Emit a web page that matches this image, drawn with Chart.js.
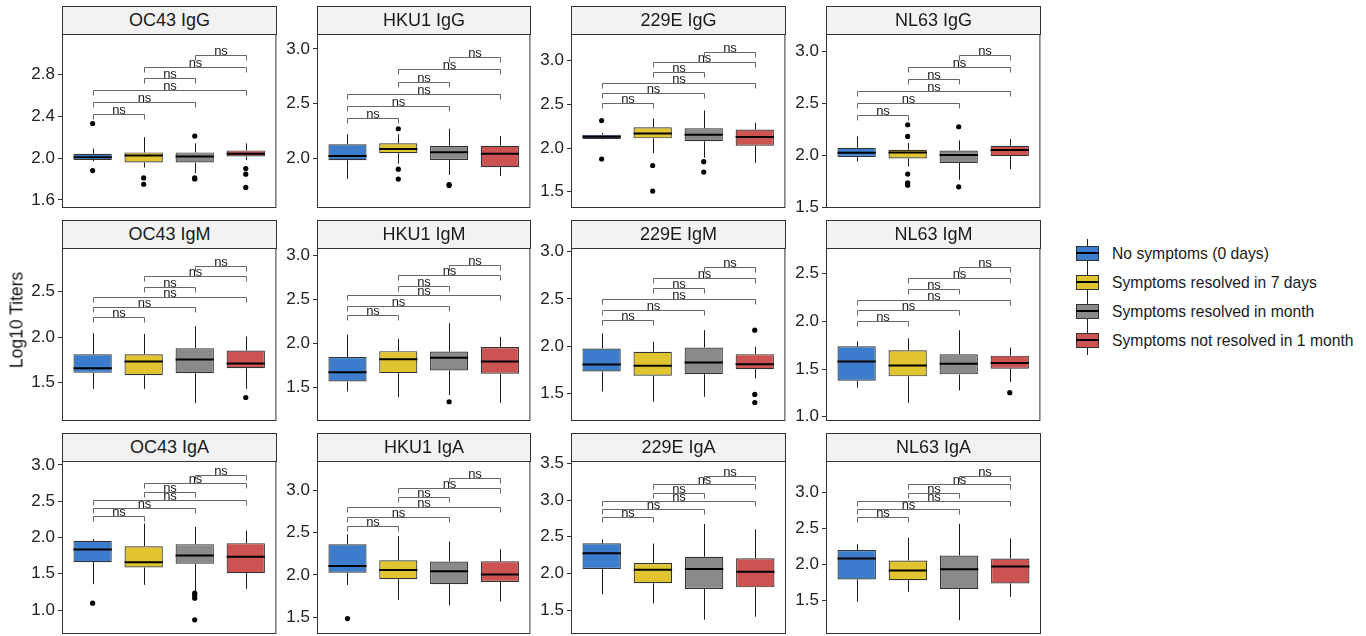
<!DOCTYPE html>
<html>
<head>
<meta charset="utf-8">
<title>Coronavirus antibody titers by symptom duration</title>
<script src="https://cdn.jsdelivr.net/npm/chart.js@4.4.1/dist/chart.umd.min.js"></script>
<style>
  body { margin: 0; background: #fff; font-family: "Liberation Sans", Arial, sans-serif; }
  #fig { position: relative; width: 1366px; height: 636px; overflow: hidden; background: #fff; }
  #fig canvas { position: absolute; }
  .strip { position: absolute; box-sizing: border-box; background: #f2f2f2; border: 1px solid #333;
           text-align: center; font-size: 18px; color: #1a1a1a; z-index: 2; }
  .ytitle { position: absolute; left: 17px; top: 320px; transform: translate(-50%, -50%) rotate(-90deg);
            font-size: 17.5px; color: #111; white-space: nowrap; }
  .legend { position: absolute; left: 1075px; top: 239px; }
  .item { position: relative; height: 29px; }
  .key { position: absolute; left: 0; top: 0; width: 25px; height: 29px; }
  .key .wh { position: absolute; left: 12px; top: 0; width: 1px; height: 29px; background: #222; }
  .key .bx { position: absolute; left: 1px; top: 7px; width: 23px; height: 15px; box-sizing: border-box; border: 1px solid #333; }
  .key .md { position: absolute; left: 1px; top: 13px; width: 23px; height: 2px; background: #000; }
  .lab { position: absolute; left: 37px; top: 0; line-height: 29px; font-size: 15.7px; color: #1a1a1a; white-space: nowrap; }
</style>
</head>
<body>
<div id="fig"></div>
<script>
// ---- data ----
const panelTitles = ['OC43 IgG', 'HKU1 IgG', '229E IgG', 'NL63 IgG',
                     'OC43 IgM', 'HKU1 IgM', '229E IgM', 'NL63 IgM',
                     'OC43 IgA', 'HKU1 IgA', '229E IgA', 'NL63 IgA'];
const groupNames = ['No symptoms (0 days)', 'Symptoms resolved in 7 days',
                    'Symptoms resolved in month', 'Symptoms not resolved in 1 month'];
const groupColors = ['#3b7dcc', '#e0c530', '#8a8a8a', '#cd5252'];

// box statistics per panel, one entry per group
const whiskerLow = [
  [1.97, 1.91, 1.856, 1.98], [1.81, 1.95, 1.847, 1.838], [2.10, 1.943, 1.89, 1.828], [1.943, 1.895, 1.767, 1.87],
  [1.432, 1.432, 1.275, 1.432], [1.45, 1.386, 1.409, 1.318], [1.52, 1.41, 1.463, 1.658], [1.304, 1.143, 1.276, 1.364],
  [1.356, 1.347, 1.255, 1.292], [1.882, 1.706, 1.643, 1.686], [1.714, 1.591, 1.368, 1.409], [1.484, 1.622, 1.23, 1.553]];
const q1 = [
  [1.981, 1.958, 1.958, 2.015], [1.982, 2.046, 1.984, 1.918], [2.103, 2.111, 2.077, 2.027], [1.985, 1.971, 1.927, 1.994],
  [1.608, 1.582, 1.604, 1.659], [1.564, 1.659, 1.689, 1.652], [1.732, 1.686, 1.703, 1.756], [1.378, 1.423, 1.444, 1.503],
  [1.66, 1.586, 1.637, 1.508], [2.027, 1.949, 1.89, 1.918], [2.059, 1.864, 1.786, 1.809], [1.793, 1.783, 1.659, 1.737]];
const medians = [
  [2.008, 2.025, 2.015, 2.041], [2.021, 2.085, 2.055, 2.042], [2.13, 2.165, 2.153, 2.126], [2.026, 2.029, 2.004, 2.052],
  [1.659, 1.733, 1.755, 1.711], [1.67, 1.818, 1.833, 1.792], [1.806, 1.792, 1.827, 1.809], [1.58, 1.538, 1.556, 1.563],
  [1.834, 1.66, 1.752, 1.733], [2.106, 2.059, 2.043, 2.004], [2.273, 2.05, 2.059, 2.023], [2.083, 1.917, 1.935, 1.972]];
const q3 = [
  [2.041, 2.054, 2.054, 2.073], [2.128, 2.137, 2.115, 2.115], [2.153, 2.237, 2.226, 2.211], [2.074, 2.055, 2.048, 2.093],
  [1.813, 1.813, 1.879, 1.853], [1.841, 1.909, 1.905, 1.955], [1.975, 1.94, 1.986, 1.915], [1.738, 1.696, 1.654, 1.64],
  [1.954, 1.88, 1.908, 1.922], [2.361, 2.173, 2.157, 2.161], [2.409, 2.141, 2.227, 2.205], [2.198, 2.055, 2.124, 2.083]];
const whiskerHigh = [
  [2.09, 2.20, 2.14, 2.14], [2.22, 2.22, 2.27, 2.204], [2.17, 2.337, 2.43, 2.29], [2.182, 2.119, 2.144, 2.157],
  [2.044, 2.037, 2.121, 2.007], [2.098, 2.049, 2.227, 2.072], [2.134, 2.046, 2.169, 1.993], [1.79, 1.822, 1.906, 1.724],
  [1.98, 2.193, 2.147, 2.092], [2.479, 2.459, 2.393, 2.302], [2.464, 2.405, 2.673, 2.6], [2.281, 2.369, 2.562, 2.359]];
const outliers = [
  [[2.33, 1.88], [1.81, 1.75], [2.21, 1.81, 1.80], [1.90, 1.846, 1.72]],
  [[], [2.27, 1.90, 1.81], [1.76, 1.75], []],
  [[2.314, 1.874], [1.80, 1.507], [1.844, 1.725], []],
  [[], [2.294, 2.182, 1.822, 1.739, 1.716], [2.275, 1.70], []],
  [[], [], [], [1.337]],
  [[], [], [1.333], []],
  [[], [], [], [2.169, 1.488, 1.403]],
  [[], [], [], [1.252]],
  [[1.094], [], [1.232, 1.2, 1.163, 0.864], []],
  [[1.486], [], [], []],
  [[], [], [], []],
  [[], [], [], []]];

// pairwise comparisons (group numbers), their bracket heights and labels
const comparisonPairs = [[1, 2], [1, 3], [1, 4], [2, 3], [2, 4], [3, 4]];
const bracketLevels = [
  [2.425, 2.535, 2.654, 2.76, 2.87, 2.986], [2.366, 2.476, 2.586, 2.70, 2.814, 2.93],
  [2.52, 2.634, 2.749, 2.867, 2.982, 3.097], [2.387, 2.502, 2.62, 2.732, 2.843, 2.96],
  [2.223, 2.33, 2.443, 2.553, 2.667, 2.784], [2.318, 2.428, 2.545, 2.655, 2.773, 2.886],
  [2.272, 2.385, 2.494, 2.611, 2.724, 2.837], [2.007, 2.119, 2.227, 2.343, 2.455, 2.566],
  [2.294, 2.405, 2.515, 2.63, 2.745, 2.86], [2.573, 2.683, 2.8, 2.919, 3.021, 3.139],
  [2.768, 2.882, 2.991, 3.1, 3.214, 3.332], [2.654, 2.77, 2.88, 2.991, 3.106, 3.226]];
const bracketLabels = ['ns', 'ns', 'ns', 'ns', 'ns', 'ns'];

// y axis ranges and tick spacing per panel
const yMin = [1.523, 1.545, 1.313, 1.497, 1.079, 1.114, 1.207, 0.955, 0.669, 1.304, 1.173, 1.039];
const yMax = [3.185, 3.137, 3.306, 3.163, 2.98, 3.083, 3.039, 2.769, 3.055, 3.342, 3.532, 3.429];
const tickStep = [0.4, 0.5, 0.5, 0.5, 0.5, 0.5, 0.5, 0.5, 0.5, 0.5, 0.5, 0.5];
const yTitle = 'Log10 Titers';

// ---- layout ----
const FONT = '"Liberation Sans", Arial, sans-serif';
const colLefts = [62, 317, 571, 826], colWidths = [215, 214, 215, 215];
const rowTops = [34, 248, 461], rowHeights = [174, 173, 173];
const STRIP_H = 28, PAD = 14, AXIS_W = 62, TIP = 5;

// whiskers, medians, significance brackets and the panel frame
const boxExtras = {
  id: 'boxExtras',
  beforeDatasetsDraw(chart, args, opts) {
    const p = opts.panel, xs = chart.scales.x, ys = chart.scales.y, ctx = chart.ctx;
    ctx.save();
    ctx.strokeStyle = '#1a1a1a';
    ctx.lineWidth = 1;
    for (let k = 0; k < 4; k++) {
      const x = Math.round(xs.getPixelForValue(k + 1)) + 0.5;
      ctx.beginPath();
      ctx.moveTo(x, ys.getPixelForValue(q3[p][k]));
      ctx.lineTo(x, ys.getPixelForValue(whiskerHigh[p][k]));
      ctx.moveTo(x, ys.getPixelForValue(q1[p][k]));
      ctx.lineTo(x, ys.getPixelForValue(whiskerLow[p][k]));
      ctx.stroke();
    }
    ctx.restore();
  },
  afterDatasetsDraw(chart, args, opts) {
    const p = opts.panel, xs = chart.scales.x, ys = chart.scales.y, ctx = chart.ctx;
    const bars = chart.getDatasetMeta(0).data;
    ctx.save();
    ctx.strokeStyle = '#000';
    ctx.lineWidth = 2;
    bars.forEach((bar, k) => {
      const { x, width } = bar.getProps(['x', 'width'], true);
      const y = ys.getPixelForValue(medians[p][k]);
      ctx.beginPath();
      ctx.moveTo(x - width / 2, y);
      ctx.lineTo(x + width / 2, y);
      ctx.stroke();
    });
    ctx.lineWidth = 1;
    ctx.strokeStyle = '#666';
    ctx.fillStyle = '#1a1a1a';
    ctx.font = '13px ' + FONT;
    ctx.textAlign = 'center';
    ctx.textBaseline = 'alphabetic';
    comparisonPairs.forEach((pair, j) => {
      const x1 = Math.round(xs.getPixelForValue(pair[0])) + 0.5;
      const x2 = Math.round(xs.getPixelForValue(pair[1])) + 0.5;
      const y = Math.round(ys.getPixelForValue(bracketLevels[p][j])) + 0.5;
      ctx.beginPath();
      ctx.moveTo(x1, y + TIP);
      ctx.lineTo(x1, y);
      ctx.lineTo(x2, y);
      ctx.lineTo(x2, y + TIP);
      ctx.stroke();
      ctx.fillText(bracketLabels[j], (x1 + x2) / 2, y - 1);
    });
    ctx.restore();
  },
  afterDraw(chart) {
    const a = chart.chartArea, ctx = chart.ctx;
    ctx.save();
    ctx.strokeStyle = '#333';
    ctx.lineWidth = 1;
    ctx.strokeRect(a.left + 0.5, a.top + 0.5, a.right - a.left - 1, a.bottom - a.top - 1);
    ctx.restore();
  }
};

const fig = document.getElementById('fig');

panelTitles.forEach((title, p) => {
  const c = p % 4, r = Math.floor(p / 4);
  const left = colLefts[c], top = rowTops[r], w = colWidths[c], h = rowHeights[r];

  const strip = document.createElement('div');
  strip.className = 'strip';
  strip.textContent = title;
  Object.assign(strip.style, { left: left + 'px', top: (top - STRIP_H) + 'px', width: w + 'px',
                               height: (STRIP_H + 1) + 'px', lineHeight: (STRIP_H - 1) + 'px' });
  fig.appendChild(strip);

  const canvas = document.createElement('canvas');
  canvas.width = AXIS_W + w + 2;
  canvas.height = h + 2 * PAD;
  canvas.style.left = (left - AXIS_W) + 'px';
  canvas.style.top = (top - PAD) + 'px';
  fig.appendChild(canvas);

  const boxData = groupNames.map((g, k) => ({ x: k + 1, y: [q1[p][k], q3[p][k]] }));
  const outlierData = [];
  outliers[p].forEach((vals, k) => vals.forEach(v => outlierData.push({ x: k + 1, y: v })));

  new Chart(canvas, {
    type: 'bar',
    data: {
      datasets: [
        { type: 'bar', data: boxData, backgroundColor: groupColors, borderColor: '#333',
          borderWidth: 1.2, borderSkipped: false, barPercentage: 0.75, categoryPercentage: 1, order: 2 },
        { type: 'scatter', data: outlierData, pointRadius: 2.6, pointHoverRadius: 2.6,
          backgroundColor: '#000', borderWidth: 0, order: 1 }
      ]
    },
    options: {
      responsive: false,
      animation: false,
      devicePixelRatio: 1,
      events: [],
      layout: { padding: { top: PAD, bottom: PAD, left: 0, right: 2 } },
      plugins: { legend: { display: false }, tooltip: { enabled: false }, boxExtras: { panel: p } },
      scales: {
        x: { type: 'linear', display: false, min: 0.4, max: 4.6, offset: false,
             ticks: { stepSize: 1, includeBounds: false } },
        y: {
          min: yMin[p], max: yMax[p],
          afterFit(s) { s.width = AXIS_W; s.paddingTop = 0; s.paddingBottom = 0; },
          border: { display: false },
          grid: { drawOnChartArea: false, drawTicks: true, tickLength: 4, color: '#333', tickWidth: 1 },
          ticks: { stepSize: tickStep[p], includeBounds: false, padding: 3, color: '#222',
                   font: { size: 17, family: FONT }, callback: v => v.toFixed(1) }
        }
      }
    },
    plugins: [boxExtras]
  });
});

// shared y title
const yt = document.createElement('div');
yt.className = 'ytitle';
yt.textContent = yTitle;
fig.appendChild(yt);

// legend with box glyph keys
const legend = document.createElement('div');
legend.className = 'legend';
groupNames.forEach((name, k) => {
  const item = document.createElement('div');
  item.className = 'item';
  item.innerHTML = '<div class="key"><div class="wh"></div><div class="bx"></div><div class="md"></div></div>' +
                   '<div class="lab"></div>';
  item.querySelector('.bx').style.background = groupColors[k];
  item.querySelector('.lab').textContent = name;
  legend.appendChild(item);
});
fig.appendChild(legend);
</script>
</body>
</html>
